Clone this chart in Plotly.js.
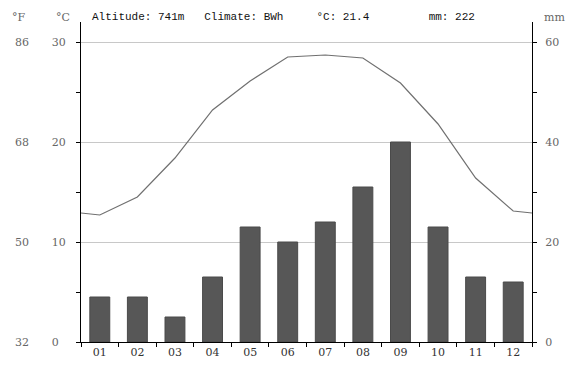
<!DOCTYPE html>
<html>
<head>
<meta charset="utf-8">
<script src="https://cdn.plot.ly/plotly-3.0.1.min.js"></script>
<style>html,body{margin:0;padding:0;background:#fff;}#chart{width:576px;height:368px;}</style>
</head>
<body>
<div id="chart"></div>
<script>
// ---- data ----
const months = ['01','02','03','04','05','06','07','08','09','10','11','12'];
const tempC = [12.7, 14.5, 18.4, 23.2, 26.1, 28.5, 28.7, 28.4, 25.9, 21.8, 16.4, 13.1];
const tempEdgeC = [12.9, 12.9];          // line values at left / right plot edge
const precipMm = [9, 9, 5, 13, 23, 20, 24, 31, 40, 23, 13, 12];
const cTicks = [0, 10, 20, 30];
const fTicks = [32, 50, 68, 86];
const mmTicks = [0, 20, 40, 60];
const headerText = 'Altitude: 741m   Climate: BWh     °C: 21.4         mm: 222';

const monthPos = months.map((m, i) => i + 1);
const lineX = [0.5].concat(monthPos, [12.5]);
const lineY = [tempEdgeC[0]].concat(tempC, [tempEdgeC[1]]);
const lineYF = lineY.map(c => 32 + c * 1.8);

const labelFont = {family: 'DejaVu Serif, serif', size: 11, color: '#666'};
const monoFont = {family: 'Liberation Mono, DejaVu Sans Mono, monospace', size: 11, color: '#111'};

const traces = [
  {
    type: 'bar', x: monthPos, y: precipMm, yaxis: 'y2',
    width: 0.53,
    marker: {color: '#575757', line: {color: '#4a4a4a', width: 1}},
    hoverinfo: 'skip'
  },
  {
    type: 'scatter', mode: 'lines', x: lineX, y: lineY, yaxis: 'y',
    line: {color: '#707070', width: 1.2},
    hoverinfo: 'skip'
  },
  {
    // same temperature line expressed in °F, invisible: keeps the °F axis drawn
    type: 'scatter', mode: 'lines', x: lineX, y: lineYF, yaxis: 'y3',
    line: {color: 'rgba(0,0,0,0)', width: 0},
    hoverinfo: 'skip'
  }
];

const layout = {
  width: 576, height: 368,
  margin: {l: 81, r: 44, t: 22, b: 26},
  paper_bgcolor: '#fff', plot_bgcolor: '#fff',
  showlegend: false,
  xaxis: {
    range: [0.5, 12.5], tickmode: 'array', tickvals: monthPos, ticktext: months,
    ticks: '', showgrid: false, zeroline: false,
    showline: true, linecolor: '#000', linewidth: 1,
    tickfont: {family: 'DejaVu Serif, serif', size: 11, color: '#333'},
    minor: {tick0: 0.5, dtick: 1, ticks: 'outside', ticklen: 4, tickcolor: '#000', showgrid: false}
  },
  yaxis: {
    range: [0, 32], tickmode: 'array', tickvals: cTicks,
    ticktext: cTicks.map(v => String(v).length < 2 ? v + '\u2007' : String(v)),
    ticks: 'outside', ticklen: 4, tickcolor: '#000',
    showline: true, linecolor: '#000', linewidth: 1,
    showgrid: true, gridcolor: '#c8c8c8', gridwidth: 1, zeroline: false,
    minor: {tick0: 0, dtick: 5, ticks: 'outside', ticklen: 4, tickcolor: '#000', showgrid: false},
    tickfont: labelFont, ticklabelstandoff: 8
  },
  yaxis2: {
    range: [0, 64], overlaying: 'y', side: 'right', anchor: 'x',
    tickmode: 'array', tickvals: mmTicks,
    ticks: 'outside', ticklen: 4, tickcolor: '#000',
    showline: true, linecolor: '#000', linewidth: 1,
    showgrid: false, zeroline: false,
    minor: {tick0: 0, dtick: 10, ticks: 'outside', ticklen: 4, tickcolor: '#000', showgrid: false},
    tickfont: labelFont, ticklabelstandoff: 6
  },
  yaxis3: {
    range: [32, 32 + 32 * 1.8], overlaying: 'y', anchor: 'free', position: 0, side: 'left',
    tickmode: 'array', tickvals: fTicks,
    ticks: '', showline: false, showgrid: false, zeroline: false,
    tickfont: labelFont, ticklabelstandoff: 52
  },
  annotations: [
    {text: '°F', xref: 'paper', yref: 'paper', x: -0.138, y: 1, yshift: 5, xanchor: 'center', yanchor: 'middle', showarrow: false, font: labelFont},
    {text: '°C', xref: 'paper', yref: 'paper', x: -0.04, y: 1, yshift: 5, xanchor: 'center', yanchor: 'middle', showarrow: false, font: labelFont},
    {text: 'mm', xref: 'paper', yref: 'paper', x: 1.05, y: 1, yshift: 5, xanchor: 'center', yanchor: 'middle', showarrow: false, font: labelFont},
    {text: headerText.replace(/ /g, '\u00a0'), xref: 'paper', yref: 'paper', x: 0.02, y: 1, yshift: 5, xanchor: 'left', yanchor: 'middle', showarrow: false, font: monoFont}
  ]
};

Plotly.newPlot('chart', traces, layout, {staticPlot: true, displayModeBar: false});
</script>
</body>
</html>
